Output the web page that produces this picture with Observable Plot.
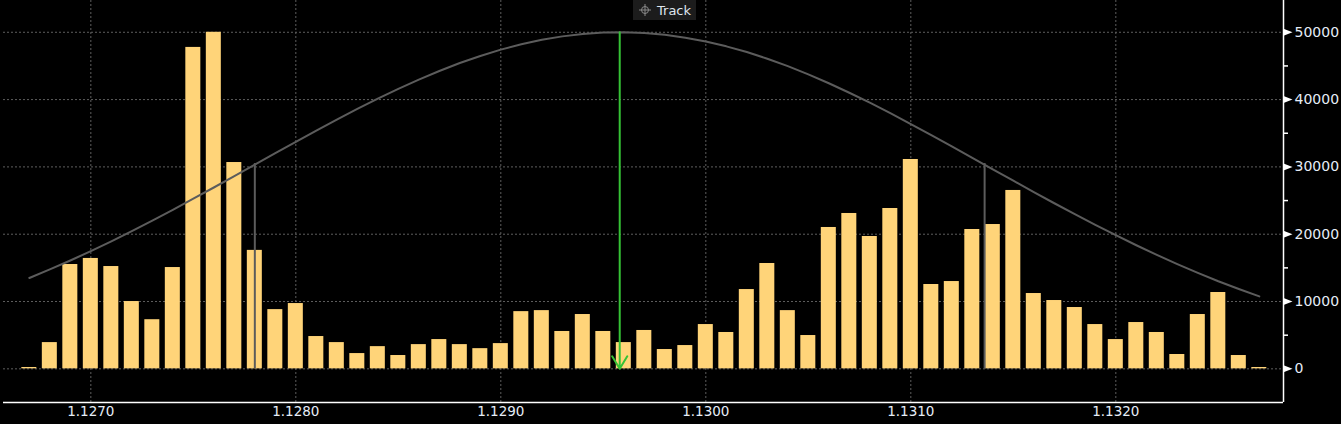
<!DOCTYPE html>
<html>
<head>
<meta charset="utf-8">
<script src="https://cdn.jsdelivr.net/npm/d3@7"></script>
<script src="https://cdn.jsdelivr.net/npm/@observablehq/plot@0.6"></script>
<style>
  html, body { margin: 0; padding: 0; background: #000; }
  #wrap { position: relative; width: 1341px; height: 424px; overflow: hidden; background: #000; }
  #track { position: absolute; left: 633px; top: 0px; width: 63px; height: 20px; background: #1c1c1c;
           font: 13px "DejaVu Sans", sans-serif; color: #dfe6ee; display: flex; align-items: center; }
  #track svg { margin-left: 6px; margin-right: 6px; }
</style>
</head>
<body>
<div id="wrap">
  <div id="chart"></div>
  <div id="track"><svg width="12" height="12" viewBox="0 0 12 12"><circle cx="6" cy="6" r="3.5" fill="none" stroke="#8a8a8a" stroke-width="1"/><line x1="6" y1="0" x2="6" y2="12" stroke="#8a8a8a"/><line x1="0" y1="6" x2="12" y2="6" stroke="#8a8a8a"/></svg><span>Track</span></div>
</div>
<script>
// Price levels (one bar per level)
const prices = [
  1.1267, 1.1268, 1.1269, 1.1270, 1.1271, 1.1272, 1.1273, 1.1274, 1.1275, 1.1276,
  1.1277, 1.1278, 1.1279, 1.1280, 1.1281, 1.1282, 1.1283, 1.1284, 1.1285, 1.1286,
  1.1287, 1.1288, 1.1289, 1.1290, 1.1291, 1.1292, 1.1293, 1.1294, 1.1295, 1.1296,
  1.1297, 1.1298, 1.1299, 1.1300, 1.1301, 1.1302, 1.1303, 1.1304, 1.1305, 1.1306,
  1.1307, 1.1308, 1.1309, 1.1310, 1.1311, 1.1312, 1.1313, 1.1314, 1.1315, 1.1316,
  1.1317, 1.1318, 1.1319, 1.1320, 1.1321, 1.1322, 1.1323, 1.1324, 1.1325, 1.1326,
  1.1327
];
// Volume at each price level
const volumes = [
  200, 3900, 15500, 16400, 15200, 10000, 7300, 15050, 47750, 50000,
  30650, 17600, 8800, 9700, 4800, 3900, 2270, 3300, 1980, 3600,
  4350, 3600, 3000, 3750, 8500, 8650, 5550, 8070, 5550, 3900,
  5700, 2870, 3460, 6580, 5400, 11780, 15650, 8650, 4950, 21000,
  23080, 19660, 23820, 31100, 12530, 12970, 20700, 21440, 26500, 11190,
  10150, 9110, 6580, 4350, 6880, 5400, 2130, 8070, 11340, 1980,
  200
];
// Distribution curve read at each price level
const curve = [
  13500, 14770, 16100, 17490, 18950, 20450, 22020, 23620, 25270, 26940,
  28630, 30330, 32030, 33720, 35390, 37020, 38610, 40140, 41600, 42970,
  44250, 45430, 46480, 47420, 48220, 48880, 49390, 49750, 49950, 50000,
  49890, 49620, 49200, 48630, 47910, 47060, 46070, 44970, 43750, 42430,
  41020, 39540, 37980, 36370, 34730, 33050, 31350, 29650, 27950, 26260,
  24600, 22970, 21390, 19850, 18360, 16930, 15560, 14260, 13020, 11860,
  10760
];
// Mean marker (green arrow) and ±1σ markers
const meanPrice = [1.12958];
const meanTop = [50000];
const sigmaPrices = [1.1278, 1.13136];
const sigmaTops = [30500, 30500];
// Axis ticks
const xTicks = [1.1270, 1.1280, 1.1290, 1.1300, 1.1310, 1.1320];
const yTicks = [0, 10000, 20000, 30000, 40000, 50000];
const yMinorTicks = [5000, 15000, 25000, 35000, 45000];

const bars = prices.map((p, i) => ({p, v: volumes[i]}));
const line = prices.map((p, i) => ({p, v: curve[i]}));
const halfW = 0.0000366;
const gridColor = "#5e5e5e";
const textColor = "#e6edf7";

const tri = {
  draw(ctx) {
    ctx.moveTo(0, -3.5);
    ctx.lineTo(9, 0);
    ctx.lineTo(0, 3.5);
    ctx.closePath();
  }
};

const xDomain = [1.126574, 1.132818];

const chart = Plot.plot({
  width: 1341,
  height: 424,
  marginTop: 0,
  marginBottom: 22,
  marginLeft: 3,
  marginRight: 58,
  style: {background: "#000", color: textColor, fontFamily: "DejaVu Sans, sans-serif", fontSize: "14px", overflow: "visible"},
  x: {domain: xDomain, label: null},
  y: {domain: [-5000, 54720], label: null},
  marks: [
    Plot.gridY(yTicks, {stroke: gridColor, strokeOpacity: 1, strokeDasharray: "2,2"}),
    Plot.gridX(xTicks, {stroke: gridColor, strokeOpacity: 1, strokeDasharray: "2,2"}),
    Plot.rectY(bars, {x1: d => d.p - halfW, x2: d => d.p + halfW, y: "v", fill: "#ffd479"}),
    Plot.line(line, {x: "p", y: "v", stroke: "#5c5c5c", strokeWidth: 2}),
    Plot.ruleX(sigmaPrices, {x: d => d, y1: 0, y2: (d, i) => sigmaTops[i], stroke: "#5c5c5c", strokeWidth: 2}),
    Plot.arrow(meanPrice, {x1: d => d, x2: d => d, y1: (d, i) => meanTop[i], y2: 0, stroke: "#35c235", strokeWidth: 2, headLength: 11, headAngle: 62}),
    Plot.ruleY([-5000], {stroke: "#ffffff", strokeWidth: 1.5}),
    Plot.ruleX([xDomain[1]], {stroke: "#ffffff", strokeWidth: 1.5}),
    Plot.axisX(xTicks, {anchor: "bottom", label: null, tickSize: 0, tickPadding: 4, tickFormat: d3.format(".4f"), color: textColor, fontSize: 13.5}),
    Plot.axisY(yTicks, {anchor: "right", label: null, tickSize: 0, tickPadding: 11, tickFormat: d => String(d), color: textColor, fontSize: 14}),
    Plot.axisY(yMinorTicks, {anchor: "right", label: null, tickSize: 4, tickFormat: () => "", stroke: "#ffffff", strokeWidth: 1.5}),
    Plot.dot(yTicks, {y: d => d, frameAnchor: "right", symbol: tri, r: 4, fill: "#ffffff", stroke: "none"})
  ]
});
document.getElementById("chart").appendChild(chart);
</script>
</body>
</html>
